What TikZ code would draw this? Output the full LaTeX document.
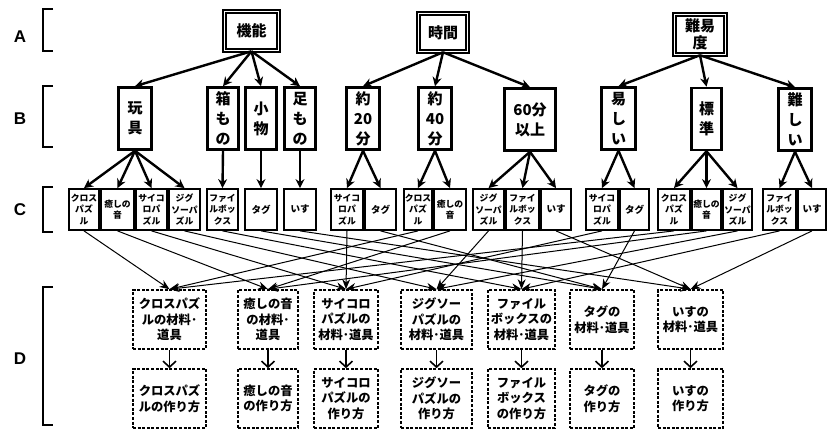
\documentclass[tikz,border=0pt]{standalone}
\usepackage{fontspec}
\setmainfont{Noto Sans CJK JP}
\newfontfamily\labfont{Liberation Sans}
\usetikzlibrary{arrows.meta}
\tikzset{
  abox/.style={draw, line width=1.5pt, double, double distance=1.6pt, inner sep=0pt, align=center, font=\bfseries\fontsize{15}{17}\selectfont},
  bbox/.style={draw, line width=2.6pt, minimum height=62pt, inner sep=0pt, align=center, font=\bfseries\fontsize{15}{20}\selectfont},
  cbox/.style={draw, line width=1.8pt, minimum height=41pt, inner sep=0pt, align=center, font=\bfseries\fontsize{8.8}{11.5}\selectfont},
  cboxs/.style={cbox, font=\bfseries\fontsize{9.5}{12}\selectfont},
  dbox/.style={draw, line width=1.6pt, dash pattern=on 3pt off 1.6pt, minimum height=59pt, inner sep=0pt, align=center, font=\bfseries\fontsize{12.3}{15.5}\selectfont},
  lvl/.style={font=\labfont\bfseries\fontsize{17}{20}\selectfont},
  brk/.style={line width=1.6pt},
  thickarr/.style={line width=2.4pt, -{Stealth[length=9pt,width=9pt]}},
  thinarr/.style={line width=1pt, -{Stealth[length=10pt,width=8pt]}},
  vbarb/.style={line width=1.6pt, -{Straight Barb[length=6pt,width=13pt]}},
}
\begin{document}
\begin{tikzpicture}[x=1pt,y=-1pt]
\useasboundingbox (0,0) rectangle (835,430);
% level labels and brackets
\node[lvl] (LA) at (20,36.5) {A};
\node[lvl] (LB) at (20,119) {B};
\node[lvl] (LC) at (20,210) {C};
\node[lvl] (LD) at (20,358.5) {D};
\draw[brk] (53,9) -- (43,9) -- (43,51) -- (53,51);
\draw[brk] (53,86) -- (43,86) -- (43,147) -- (53,147);
\draw[brk] (53,187) -- (43,187) -- (43,232) -- (53,232);
\draw[brk] (53,287) -- (43,287) -- (43,425) -- (53,425);
% A level
\node[abox, minimum width=54pt, minimum height=39pt] (A1) at (251.5,31) {機能};
\node[abox, minimum width=49pt, minimum height=38pt] (A2) at (443,32.5) {時間};
\node[abox, minimum width=51pt, minimum height=40pt] (A3) at (700,34.5) {難易\\度};
% B level
\node[bbox, minimum width=33pt] (B1) at (135,118.5) {玩\\具};
\node[bbox, minimum width=31pt] (B2) at (223,118.5) {箱\\も\\の};
\node[bbox, minimum width=31pt] (B3) at (261,118.5) {小\\物};
\node[bbox, minimum width=31pt] (B4) at (300,118.5) {足\\も\\の};
\node[bbox, minimum width=33pt] (B5) at (363,118.5) {約\\20\\分};
\node[bbox, minimum width=33pt] (B6) at (435,118.5) {約\\40\\分};
\node[bbox, minimum width=51pt] (B7) at (530,119.5) {60分\\以上};
\node[bbox, minimum width=34pt] (B8) at (618.5,118.5) {易\\し\\い};
\node[bbox, minimum width=30pt] (B9) at (706.5,119) {標\\準};
\node[bbox, minimum width=33pt] (B10) at (795,119.5) {難\\し\\い};
% C level
\node[cbox, minimum width=30pt] (C1) at (84,209.5) {クロス\\パズ\\ル};
\node[cbox, minimum width=33pt] (C2) at (117.5,209.5) {癒しの\\音};
\node[cbox, minimum width=31pt] (C3) at (151.5,209.5) {サイコ\\ロパ\\ズル};
\node[cbox, minimum width=31pt] (C4) at (184.5,209.5) {ジグ\\ソーパ\\ズル};
\node[cbox, minimum width=31pt] (C5) at (222.5,209.5) {ファイ\\ルボッ\\クス};
\node[cboxs, minimum width=32pt] (C6) at (261,209.5) {タグ};
\node[cboxs, minimum width=32pt] (C7) at (300,209.5) {いす};
\node[cbox, minimum width=32pt] (C8) at (347,209.5) {サイコ\\ロパ\\ズル};
\node[cboxs, minimum width=31pt] (C9) at (380.5,209.5) {タグ};
\node[cbox, minimum width=28pt] (C10) at (418,209.5) {クロス\\パズ\\ル};
\node[cbox, minimum width=32pt] (C11) at (450,209.5) {癒しの\\音};
\node[cbox, minimum width=31pt] (C12) at (488.5,209.5) {ジグ\\ソーパ\\ズル};
\node[cbox, minimum width=33pt] (C13) at (522.5,209.5) {ファイ\\ルボッ\\クス};
\node[cboxs, minimum width=30pt] (C14) at (556,209.5) {いす};
\node[cbox, minimum width=32pt] (C15) at (602,209.5) {サイコ\\ロパ\\ズル};
\node[cboxs, minimum width=29pt] (C16) at (634.5,209.5) {タグ};
\node[cbox, minimum width=32pt] (C17) at (674,209.5) {クロス\\パズ\\ル};
\node[cbox, minimum width=29pt] (C18) at (706.5,209.5) {癒しの\\音};
\node[cbox, minimum width=29pt] (C19) at (737.5,209.5) {ジグ\\ソーパ\\ズル};
\node[cbox, minimum width=33pt] (C20) at (779.5,209.5) {ファイ\\ルボッ\\クス};
\node[cboxs, minimum width=28pt] (C21) at (812,209.5) {いす};
% D level top row
\node[dbox, minimum width=73pt] (D1) at (169.5,319.5) {クロスパズ\\ルの材料･\\道具};
\node[dbox, minimum width=60pt] (D2) at (268,319.5) {癒しの音\\の材料･\\道具};
\node[dbox, minimum width=64pt] (D3) at (346,319.5) {サイコロ\\パズルの\\材料･道具};
\node[dbox, minimum width=71pt] (D4) at (436.5,319.5) {ジグソー\\パズルの\\材料･道具};
\node[dbox, minimum width=67pt] (D5) at (521.5,319.5) {ファイル\\ボックスの\\材料･道具};
\node[dbox, minimum width=64pt] (D6) at (602,319.5) {タグの\\材料･道具};
\node[dbox, minimum width=65pt] (D7) at (690.5,319.5) {いすの\\材料･道具};
% D level bottom row
\node[dbox, minimum width=73pt] (E1) at (169.5,398.5) {クロスパズ\\ルの作り方};
\node[dbox, minimum width=60pt] (E2) at (268,398.5) {癒しの音\\の作り方};
\node[dbox, minimum width=64pt] (E3) at (346,398.5) {サイコロ\\パズルの\\作り方};
\node[dbox, minimum width=71pt] (E4) at (436.5,398.5) {ジグソー\\パズルの\\作り方};
\node[dbox, minimum width=67pt] (E5) at (521.5,398.5) {ファイル\\ボックス\\の作り方};
\node[dbox, minimum width=64pt] (E6) at (602,398.5) {タグの\\作り方};
\node[dbox, minimum width=65pt] (E7) at (690.5,398.5) {いすの\\作り方};
% A -> B
\foreach \b in {B1,B2,B3,B4} \draw[thickarr] (A1.south) -- (\b.north);
\foreach \b in {B5,B6,B7} \draw[thickarr] (A2.south) -- (\b.north);
\foreach \b in {B8,B9,B10} \draw[thickarr] (A3.south) -- (\b.north);
% B -> C
\foreach \c in {C1,C2,C3,C4} \draw[thickarr] (B1.south) -- (\c.north);
\draw[thickarr] (B2.south) -- (C5.north);
\draw[thickarr] (B3.south) -- (C6.north);
\draw[thickarr] (B4.south) -- (C7.north);
\foreach \c in {C8,C9} \draw[thickarr] (B5.south) -- (\c.north);
\foreach \c in {C10,C11} \draw[thickarr] (B6.south) -- (\c.north);
\foreach \c in {C12,C13,C14} \draw[thickarr] (B7.south) -- (\c.north);
\foreach \c in {C15,C16} \draw[thickarr] (B8.south) -- (\c.north);
\foreach \c in {C17,C18,C19} \draw[thickarr] (B9.south) -- (\c.north);
\foreach \c in {C20,C21} \draw[thickarr] (B10.south) -- (\c.north);
% C -> D
\foreach \c in {C1,C10,C17} \draw[thinarr] (\c.south) -- (D1.north);
\foreach \c in {C2,C11,C18} \draw[thinarr] (\c.south) -- (D2.north);
\foreach \c in {C3,C8,C15} \draw[thinarr] (\c.south) -- (D3.north);
\foreach \c in {C4,C12,C19} \draw[thinarr] (\c.south) -- (D4.north);
\foreach \c in {C5,C13,C20} \draw[thinarr] (\c.south) -- (D5.north);
\foreach \c in {C6,C9,C16} \draw[thinarr] (\c.south) -- (D6.north);
\foreach \c in {C7,C14,C21} \draw[thinarr] (\c.south) -- (D7.north);
% D top -> bottom
\foreach \i in {1,...,7} \draw[vbarb] (D\i.south) -- (E\i.north);
\end{tikzpicture}
\end{document}
